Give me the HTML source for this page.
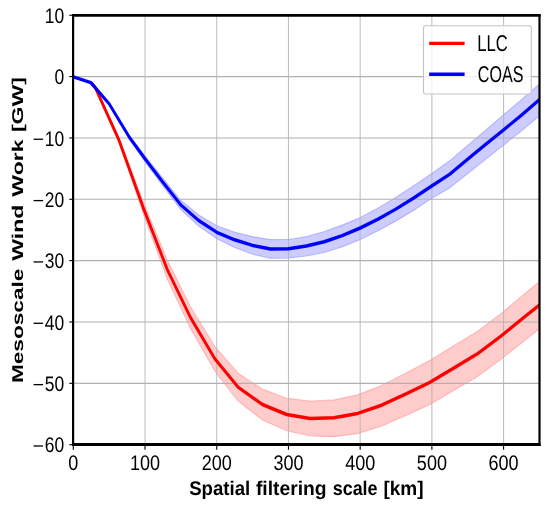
<!DOCTYPE html>
<html><head><meta charset="utf-8"><style>
html,body{margin:0;padding:0;background:#fff;}
body{width:550px;height:506px;overflow:hidden;}
svg{display:block;will-change:transform;font-family:"Liberation Sans",sans-serif;}
text{fill:#000;text-rendering:geometricPrecision;}
</style></head><body>
<svg width="550" height="506" viewBox="0 0 550 506">
<defs><clipPath id="c"><rect x="73.10" y="15.30" width="466.40" height="429.20"/></clipPath></defs>
<rect width="550" height="506" fill="#fff"/>
<g clip-path="url(#c)">
<g transform="scale(0.786,1)">
<polygon points="115.65,82.30 121.25,86.97 151.40,137.78 182.19,201.57 212.72,259.62 242.24,306.41 273.54,346.61 303.05,373.29 333.84,389.04 364.63,398.21 394.40,401.20 424.68,399.88 455.09,394.86 485.50,385.52 515.90,373.23 546.31,360.63 576.72,346.01 607.12,331.51 637.53,313.51 667.94,293.40 698.35,273.50 698.35,321.50 667.94,340.17 637.53,359.16 607.12,376.73 576.72,390.80 546.31,404.83 515.90,415.60 485.50,426.07 455.09,433.57 424.68,436.63 394.40,436.00 364.63,430.79 333.84,419.96 303.05,401.31 273.54,371.39 242.24,328.39 212.72,278.98 182.19,213.63 151.40,142.62 121.25,88.23 115.65,82.90" fill="#ff0000" fill-opacity="0.2" stroke="#ff0000" stroke-opacity="0.2" stroke-width="1.2"/>
<polygon points="93.26,76.90 115.65,82.40 138.80,102.99 164.76,135.53 184.48,155.80 207.25,178.30 229.64,199.97 252.54,214.83 275.83,225.81 298.47,232.13 321.25,236.59 344.15,239.60 366.92,239.49 389.82,236.48 412.60,231.49 435.37,225.10 458.27,217.49 481.04,208.00 503.82,197.24 526.59,185.56 549.49,173.40 572.14,160.73 594.91,145.50 617.68,130.15 640.59,114.82 663.36,99.75 686.13,83.98 693.38,79.20 693.38,111.60 686.13,116.11 663.36,130.99 640.59,145.19 617.68,159.42 594.91,173.68 572.14,187.85 549.49,198.30 526.59,210.14 503.82,220.88 481.04,230.70 458.27,239.60 435.37,246.80 412.60,252.51 389.82,256.02 366.92,258.11 344.15,258.30 321.25,254.22 298.47,247.47 275.83,238.79 252.54,225.97 229.64,209.23 207.25,186.09 184.48,161.80 164.76,139.47 138.80,104.61 115.65,82.80 93.26,76.90" fill="#0000ff" fill-opacity="0.2" stroke="#0000ff" stroke-opacity="0.2" stroke-width="1.2"/>
</g>
<line x1="145.02" y1="15.3" x2="145.02" y2="444.5" stroke="#b0b0b0" stroke-width="0.87"/>
<line x1="216.73" y1="15.3" x2="216.73" y2="444.5" stroke="#b0b0b0" stroke-width="0.87"/>
<line x1="288.45" y1="15.3" x2="288.45" y2="444.5" stroke="#b0b0b0" stroke-width="0.87"/>
<line x1="360.17" y1="15.3" x2="360.17" y2="444.5" stroke="#b0b0b0" stroke-width="0.87"/>
<line x1="431.88" y1="15.3" x2="431.88" y2="444.5" stroke="#b0b0b0" stroke-width="0.87"/>
<line x1="503.60" y1="15.3" x2="503.60" y2="444.5" stroke="#b0b0b0" stroke-width="0.87"/>
<line x1="73.1" y1="76.60" x2="539.5" y2="76.60" stroke="#b0b0b0" stroke-width="1.12"/>
<line x1="73.1" y1="137.95" x2="539.5" y2="137.95" stroke="#b0b0b0" stroke-width="1.12"/>
<line x1="73.1" y1="199.29" x2="539.5" y2="199.29" stroke="#b0b0b0" stroke-width="1.12"/>
<line x1="73.1" y1="260.64" x2="539.5" y2="260.64" stroke="#b0b0b0" stroke-width="1.12"/>
<line x1="73.1" y1="321.98" x2="539.5" y2="321.98" stroke="#b0b0b0" stroke-width="1.12"/>
<line x1="73.1" y1="383.33" x2="539.5" y2="383.33" stroke="#b0b0b0" stroke-width="1.12"/>
<g transform="scale(0.786,1)">
<polyline points="115.65,82.60 121.25,87.60 151.40,140.20 182.19,207.60 212.72,269.30 242.24,317.40 273.54,359.00 303.05,387.30 333.84,404.50 364.63,414.50 394.40,418.50 424.68,417.80 455.09,413.40 485.50,405.20 515.90,394.10 546.31,382.70 576.72,368.30 607.12,353.90 637.53,336.00 667.94,316.60 698.35,297.50" fill="none" stroke="#ff0000" stroke-width="3.5" stroke-linejoin="round"/>
<polyline points="93.26,76.90 115.65,82.60 138.80,103.80 164.76,137.50 184.48,158.80 207.25,182.20 229.64,204.60 252.54,220.40 275.83,232.30 298.47,239.80 321.25,245.40 344.15,248.90 366.92,248.70 389.82,246.00 412.60,241.70 435.37,235.60 458.27,228.00 481.04,219.10 503.82,209.00 526.59,197.90 549.49,185.90 572.14,174.20 594.91,159.30 617.68,144.50 640.59,130.00 663.36,115.20 686.13,99.70 693.38,95.00" fill="none" stroke="#0000ff" stroke-width="3.5" stroke-linejoin="round"/>
</g>
</g>
<line x1="73.1" y1="13.9" x2="73.1" y2="445.9" stroke="#000" stroke-width="2.2"/>
<line x1="539.5" y1="13.9" x2="539.5" y2="445.9" stroke="#000" stroke-width="2.2"/>
<line x1="72.0" y1="15.3" x2="540.6" y2="15.3" stroke="#000" stroke-width="2.8"/>
<line x1="72.0" y1="444.5" x2="540.6" y2="444.5" stroke="#000" stroke-width="2.8"/>
<line x1="73.30" y1="444.5" x2="73.30" y2="449.7" stroke="#000" stroke-width="1.1"/>
<line x1="145.02" y1="444.5" x2="145.02" y2="449.7" stroke="#000" stroke-width="1.1"/>
<line x1="216.73" y1="444.5" x2="216.73" y2="449.7" stroke="#000" stroke-width="1.1"/>
<line x1="288.45" y1="444.5" x2="288.45" y2="449.7" stroke="#000" stroke-width="1.1"/>
<line x1="360.17" y1="444.5" x2="360.17" y2="449.7" stroke="#000" stroke-width="1.1"/>
<line x1="431.88" y1="444.5" x2="431.88" y2="449.7" stroke="#000" stroke-width="1.1"/>
<line x1="503.60" y1="444.5" x2="503.60" y2="449.7" stroke="#000" stroke-width="1.1"/>
<line x1="69.25" y1="15.25" x2="73.1" y2="15.25" stroke="#000" stroke-width="1.1"/>
<line x1="69.25" y1="76.60" x2="73.1" y2="76.60" stroke="#000" stroke-width="1.1"/>
<line x1="69.25" y1="137.95" x2="73.1" y2="137.95" stroke="#000" stroke-width="1.1"/>
<line x1="69.25" y1="199.29" x2="73.1" y2="199.29" stroke="#000" stroke-width="1.1"/>
<line x1="69.25" y1="260.64" x2="73.1" y2="260.64" stroke="#000" stroke-width="1.1"/>
<line x1="69.25" y1="321.98" x2="73.1" y2="321.98" stroke="#000" stroke-width="1.1"/>
<line x1="69.25" y1="383.33" x2="73.1" y2="383.33" stroke="#000" stroke-width="1.1"/>
<line x1="69.25" y1="444.68" x2="73.1" y2="444.68" stroke="#000" stroke-width="1.1"/>
<text x="0" y="0" font-size="21" text-anchor="end" transform="translate(64.1,22.85) scale(0.83,1)">10</text>
<text x="0" y="0" font-size="21" text-anchor="end" transform="translate(64.1,84.20) scale(0.83,1)">0</text>
<text x="0" y="0" font-size="21" text-anchor="end" transform="translate(64.1,145.55) scale(0.83,1)">10</text>
<rect x="33.6" y="138.60" width="9.5" height="1.3" fill="#000"/>
<text x="0" y="0" font-size="21" text-anchor="end" transform="translate(64.1,206.89) scale(0.83,1)">20</text>
<rect x="33.6" y="199.94" width="9.5" height="1.3" fill="#000"/>
<text x="0" y="0" font-size="21" text-anchor="end" transform="translate(64.1,268.24) scale(0.83,1)">30</text>
<rect x="33.6" y="261.29" width="9.5" height="1.3" fill="#000"/>
<text x="0" y="0" font-size="21" text-anchor="end" transform="translate(64.1,329.58) scale(0.83,1)">40</text>
<rect x="33.6" y="322.63" width="9.5" height="1.3" fill="#000"/>
<text x="0" y="0" font-size="21" text-anchor="end" transform="translate(64.1,390.93) scale(0.83,1)">50</text>
<rect x="33.6" y="383.98" width="9.5" height="1.3" fill="#000"/>
<text x="0" y="0" font-size="21" text-anchor="end" transform="translate(64.1,452.28) scale(0.83,1)">60</text>
<rect x="33.6" y="445.33" width="9.5" height="1.3" fill="#000"/>
<text x="0" y="0" font-size="21" text-anchor="middle" transform="translate(73.30,470.0) scale(0.857,1)">0</text>
<text x="0" y="0" font-size="21" text-anchor="middle" transform="translate(145.02,470.0) scale(0.857,1)">100</text>
<text x="0" y="0" font-size="21" text-anchor="middle" transform="translate(216.73,470.0) scale(0.857,1)">200</text>
<text x="0" y="0" font-size="21" text-anchor="middle" transform="translate(288.45,470.0) scale(0.857,1)">300</text>
<text x="0" y="0" font-size="21" text-anchor="middle" transform="translate(360.17,470.0) scale(0.857,1)">400</text>
<text x="0" y="0" font-size="21" text-anchor="middle" transform="translate(431.88,470.0) scale(0.857,1)">500</text>
<text x="0" y="0" font-size="21" text-anchor="middle" transform="translate(503.60,470.0) scale(0.857,1)">600</text>
<text x="0" y="0" font-size="19.8" font-weight="bold" transform="translate(189.14,495.4) scale(0.9412,1)">Spatial</text>
<text x="0" y="0" font-size="19.8" font-weight="bold" transform="translate(255.91,495.4) scale(0.9746,1)">filtering</text>
<text x="0" y="0" font-size="19.8" font-weight="bold" transform="translate(332.66,495.4) scale(0.9077,1)">scale</text>
<text x="0" y="0" font-size="19.8" font-weight="bold" transform="translate(383.44,495.4) scale(0.9621,1)">[km]</text>
<text x="0" y="0" font-size="19.8" font-weight="bold" transform="translate(23.3,383.09) scale(0.79,1.1436) rotate(-90)">Mesoscale</text>
<text x="0" y="0" font-size="19.8" font-weight="bold" transform="translate(23.3,260.70) scale(0.79,1.1663) rotate(-90)">Wind</text>
<text x="0" y="0" font-size="19.8" font-weight="bold" transform="translate(23.3,196.70) scale(0.79,1.1650) rotate(-90)">Work</text>
<text x="0" y="0" font-size="19.8" font-weight="bold" transform="translate(23.3,132.08) scale(0.79,1.1619) rotate(-90)">[GW]</text>
<rect x="423.5" y="25.8" width="107.8" height="68.2" rx="2.2" ry="2.2" fill="#fff" fill-opacity="0.8" stroke="#c4c4c4" stroke-width="1.1"/>
<line x1="429.2" y1="43.4" x2="464.6" y2="43.4" stroke="#ff0000" stroke-width="3.4"/>
<line x1="429.2" y1="74.3" x2="464.6" y2="74.3" stroke="#0000ff" stroke-width="3.4"/>
<text x="0" y="0" font-size="23" transform="translate(477.3,50.7) scale(0.724,1)">LLC</text>
<text x="0" y="0" font-size="23" transform="translate(477.8,81.5) scale(0.700,1)">COAS</text>
</svg>
</body></html>
